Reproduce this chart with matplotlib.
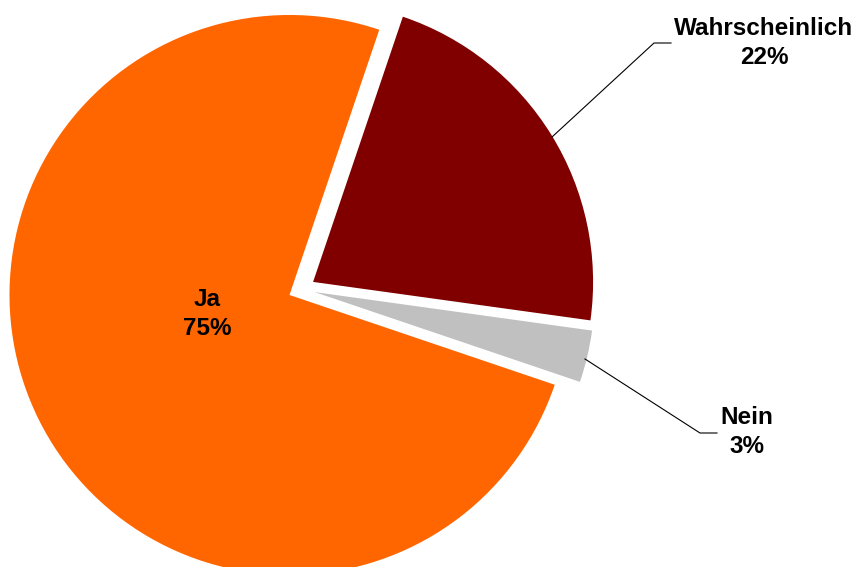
import matplotlib.pyplot as plt

# slice data, clockwise from the top edge of "Wahrscheinlich"
labels = ["Wahrscheinlich", "Nein", "Ja"]
shares = [22, 3, 75]
colors = ["#800000", "#C0C0C0", "#FF6600"]

W, H = 856, 567
fig = plt.figure(figsize=(W / 100, H / 100), dpi=100)
ax = fig.add_axes([0, 0, 1, 1])

cx, cy, r = 301.6, H - 289, 280
gap = 13.5  # explode offset in pixels (pie uses data units here)
ax.pie(shares, colors=colors, startangle=71.3, counterclock=False,
       explode=[gap, gap, gap], center=(cx, cy), radius=r,
       wedgeprops=dict(linewidth=0), frame=True)
ax.set_xlim(0, W)
ax.set_ylim(0, H)
ax.axis("off")

font = dict(family="Liberation Sans", fontsize=17.5, fontweight="bold",
            ha="center", va="center", linespacing=1.35)

def label_text(i):
    return f"{labels[i]}\n{shares[i]}%"

# Ja label sits inside the slice
ax.text(207, H - 314, label_text(2), **font)

# outside labels with leader lines
ax.plot([552, 654, 671], [H - 137, H - 43, H - 43], color="black", lw=0.8)
ax.text(764, H - 43, label_text(0), **font)

ax.plot([585, 700, 717], [H - 359, H - 433, H - 433], color="black", lw=0.8)
ax.text(747, H - 432, label_text(1), **font)

fig.savefig("out.png", dpi=100)
